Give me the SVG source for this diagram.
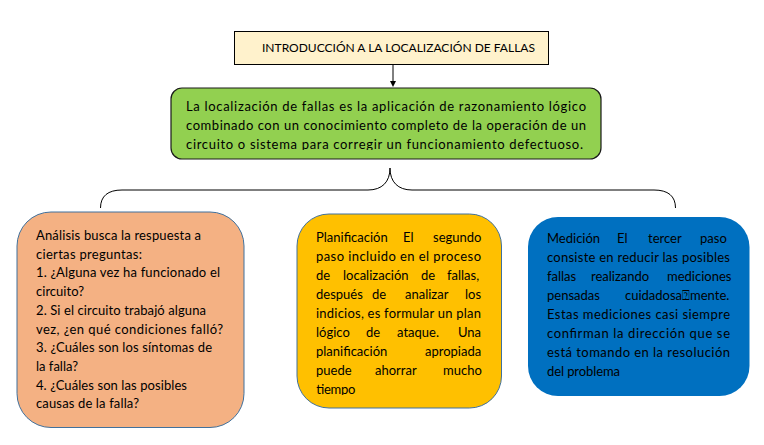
<svg xmlns="http://www.w3.org/2000/svg" width="764" height="445" viewBox="0 0 764 445">
<style>
text{font-family:Lato,"Open Sans","Liberation Sans",sans-serif;font-size:13px;fill:#000}
.title{font-size:12px}
.conn{fill:none;stroke:#000;stroke-width:1}
</style>
<defs>
<marker id="ah" markerWidth="8" markerHeight="8" refX="3" refY="3" orient="auto" markerUnits="userSpaceOnUse">
<path d="M0,0 L6,3 L0,6 Z" fill="#000"/>
</marker>
<clipPath id="cg"><rect x="170" y="88" width="432" height="62"/></clipPath>
<clipPath id="cy"><rect x="297" y="214" width="205" height="181"/></clipPath>
</defs>
<rect width="764" height="445" fill="#fff"/>
<g id="connectors">
<line class="conn" x1="393" y1="65" x2="393" y2="84" marker-end="url(#ah)"/>
<path class="conn" d="M100.5,208 C100.5,196 108,190 122,190 L368,190 C382,190 390,182 390,168 C390,182 398,190 412,190 L654,190 C668,190 675.5,196 675.5,208"/>
</g>
<g id="title">
<rect x="234.5" y="31.5" width="314" height="33" fill="#FFF2CC" stroke="#000" stroke-width="1"/>
<text class="title" x="262" y="52" textLength="273" lengthAdjust="spacingAndGlyphs">INTRODUCCIÓN A LA LOCALIZACIÓN DE FALLAS</text>
</g>
<g id="definition">
<rect x="171" y="88" width="430" height="71" rx="11" fill="#92D050" stroke="#1a1a1a" stroke-width="1.2"/>
<g clip-path="url(#cg)">
<text x="186" y="111" textLength="400" lengthAdjust="spacing">La localización de fallas es la aplicación de razonamiento lógico</text>
<text x="186" y="130" textLength="400" lengthAdjust="spacing">combinado con un conocimiento completo de la operación de un</text>
<text x="186" y="148.5" textLength="397" lengthAdjust="spacing">circuito o sistema para corregir un funcionamiento  defectuoso.</text>
</g>
</g>
<g id="analisis">
<rect x="17" y="212" width="227" height="215.5" rx="34" fill="#F4B183" stroke="#41719C" stroke-width="1"/>
<text x="36" y="240" textLength="165" lengthAdjust="spacing">Análisis busca la respuesta a</text>
<text x="36" y="258.7" textLength="106" lengthAdjust="spacing">ciertas preguntas:</text>
<text x="36" y="277.4" textLength="184" lengthAdjust="spacing">1. ¿Alguna vez ha funcionado  el</text>
<text x="36" y="296.1" textLength="48" lengthAdjust="spacing">circuito?</text>
<text x="36" y="314.8" textLength="170" lengthAdjust="spacing">2. Si el circuito trabajó alguna</text>
<text x="36" y="333.5" textLength="187" lengthAdjust="spacing">vez, ¿en qué condiciones  falló?</text>
<text x="36" y="352.2" textLength="176" lengthAdjust="spacing">3. ¿Cuáles son los síntomas de</text>
<text x="36" y="370.9" textLength="42" lengthAdjust="spacing">la falla?</text>
<text x="36" y="389.6" textLength="151" lengthAdjust="spacing">4. ¿Cuáles son las posibles</text>
<text x="36" y="408.3" textLength="103" lengthAdjust="spacing">causas de la falla?</text>
</g>
<g id="planificacion">
<rect x="297" y="214" width="204.5" height="194" rx="32" fill="#FFC000" stroke="#41719C" stroke-width="1"/>
<g clip-path="url(#cy)">
<text y="242"><tspan x="316">Planificación</tspan><tspan x="403">El</tspan><tspan x="433">segundo</tspan></text>
<text x="316" y="261" textLength="165" lengthAdjust="spacing">paso incluido en el proceso</text>
<text y="280"><tspan x="316">de</tspan><tspan x="343">localización</tspan><tspan x="421">de</tspan><tspan x="447">fallas,</tspan></text>
<text y="299"><tspan x="316">después</tspan><tspan x="372">de</tspan><tspan x="405">analizar</tspan><tspan x="465">los</tspan></text>
<text x="316" y="318" textLength="165" lengthAdjust="spacing">indicios, es formular un plan</text>
<text y="337"><tspan x="316">lógico</tspan><tspan x="366">de</tspan><tspan x="397">ataque.</tspan><tspan x="458">Una</tspan></text>
<text y="356"><tspan x="316">planificación</tspan><tspan x="425">apropiada</tspan></text>
<text y="375"><tspan x="316">puede</tspan><tspan x="375">ahorrar</tspan><tspan x="443">mucho</tspan></text>
<text x="316" y="394" textLength="39" lengthAdjust="spacing">tiempo</text>
</g>
</g>
<g id="medicion">
<rect x="528" y="217" width="221.5" height="179" rx="30" fill="#0070C0"/>
<text y="243"><tspan x="547">Medición</tspan><tspan x="617">El</tspan><tspan x="648">tercer</tspan><tspan x="700">paso</tspan></text>
<text x="547" y="262" textLength="183" lengthAdjust="spacing">consiste en reducir las posibles</text>
<text y="281"><tspan x="547">fallas</tspan><tspan x="591">realizando</tspan><tspan x="667">mediciones</tspan></text>
<text y="300"><tspan x="547">pensadas</tspan><tspan x="625">cuidadosa⍰mente.</tspan></text>
<text x="547" y="319" textLength="183" lengthAdjust="spacing">Estas mediciones casi siempre</text>
<text x="547" y="338" textLength="183" lengthAdjust="spacing">confirman la dirección que se</text>
<text x="547" y="357" textLength="183" lengthAdjust="spacing">está tomando en la resolución</text>
<text x="547" y="376" textLength="73" lengthAdjust="spacing">del problema</text>
</g>
</svg>
